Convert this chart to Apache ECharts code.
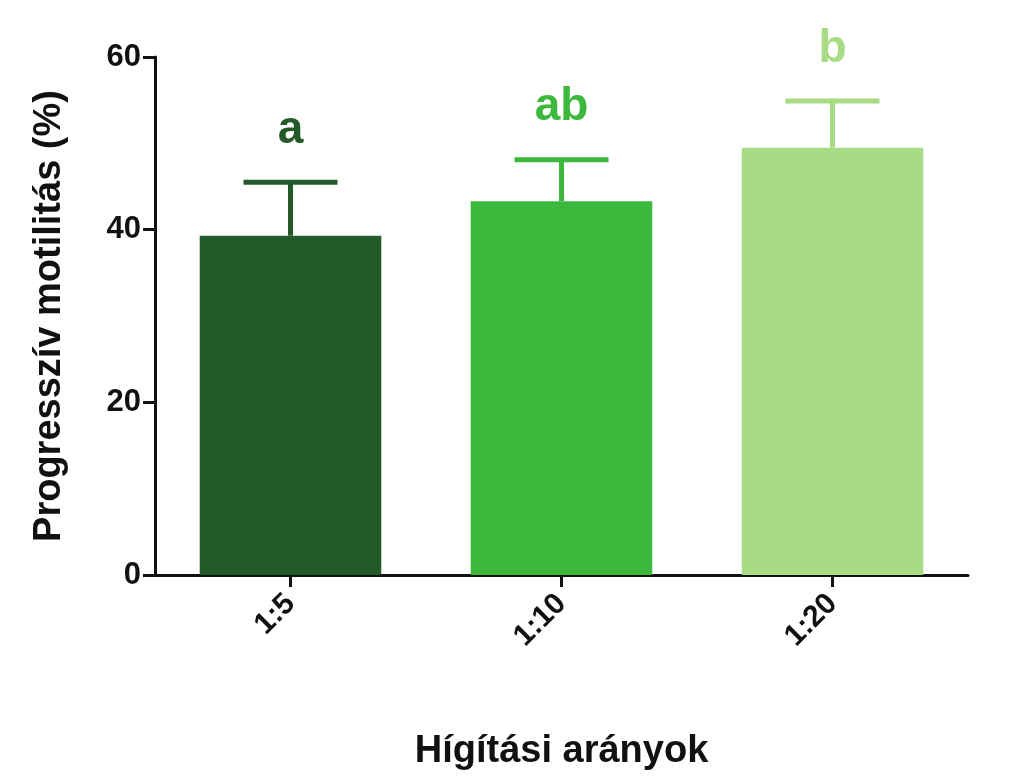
<!DOCTYPE html>
<html>
<head>
<meta charset="utf-8">
<script src="https://cdn.jsdelivr.net/npm/echarts@6/dist/echarts.min.js"></script>
<style>html,body{margin:0;padding:0;background:#fff}#chart{width:1024px;height:776px}</style>
</head>
<body>
<div id="chart"></div>
<script>
const categories = ['1:5', '1:10', '1:20'];
const means = [39.3, 43.3, 49.5];
const errTops = [45.5, 48.1, 54.9];
const letters = ['a', 'ab', 'b'];
const colors = ['#245a27', '#3cb83c', '#a8dc84'];

const chart = echarts.init(document.getElementById('chart'));
const font = 'Liberation Sans, Arial, sans-serif';

chart.setOption({
  animation: false,
  grid: { left: 155, right: 56, top: 57, bottom: 199 },
  xAxis: {
    type: 'category',
    data: categories,
    name: 'Hígítási arányok',
    nameLocation: 'middle',
    nameGap: 158,
    nameTextStyle: { fontSize: 38, fontWeight: 'bold', color: '#111', fontFamily: font },
    axisLine: { lineStyle: { color: '#111', width: 3 } },
    axisTick: { show: true, alignWithLabel: true, length: 12, lineStyle: { width: 3, color: '#111' } },
    axisLabel: { rotate: 45, margin: 24, fontSize: 30, fontWeight: 'bold', color: '#111', fontFamily: font }
  },
  yAxis: {
    type: 'value',
    min: 0, max: 60, interval: 20,
    name: 'Progresszív motilitás (%)',
    nameLocation: 'middle',
    nameGap: 86,
    nameTextStyle: { fontSize: 38, fontWeight: 'bold', color: '#111', fontFamily: font },
    splitLine: { show: false },
    axisLine: { show: true, lineStyle: { color: '#111', width: 3 } },
    axisTick: { show: true, length: 12, lineStyle: { width: 3, color: '#111' } },
    axisLabel: { margin: 14, fontSize: 31, fontWeight: 'bold', color: '#111', fontFamily: font }
  },
  series: [
    {
      type: 'bar',
      barWidth: '67%',
      data: means.map((v, i) => ({ value: v, itemStyle: { color: colors[i] } })),
      z: 2
    },
    {
      type: 'custom',
      z: 3,
      data: categories.map((c, i) => [i, means[i], errTops[i]]),
      renderItem: function (params, api) {
        const i = api.value(0);
        const base = api.coord([i, api.value(1)]);
        const top = api.coord([i, api.value(2)]);
        const half = 47;
        const col = colors[i];
        return {
          type: 'group',
          children: [
            { type: 'line', shape: { x1: base[0], y1: base[1], x2: top[0], y2: top[1] }, style: { stroke: col, lineWidth: 5 } },
            { type: 'line', shape: { x1: top[0] - half, y1: top[1], x2: top[0] + half, y2: top[1] }, style: { stroke: col, lineWidth: 5 } },
            { type: 'text', x: top[0], y: top[1] - 52, style: { text: letters[i], fill: col, font: 'bold 46px ' + font, align: 'center', verticalAlign: 'middle' } }
          ]
        };
      }
    }
  ]
});
window.addEventListener('resize', () => chart.resize());
</script>
</body>
</html>
